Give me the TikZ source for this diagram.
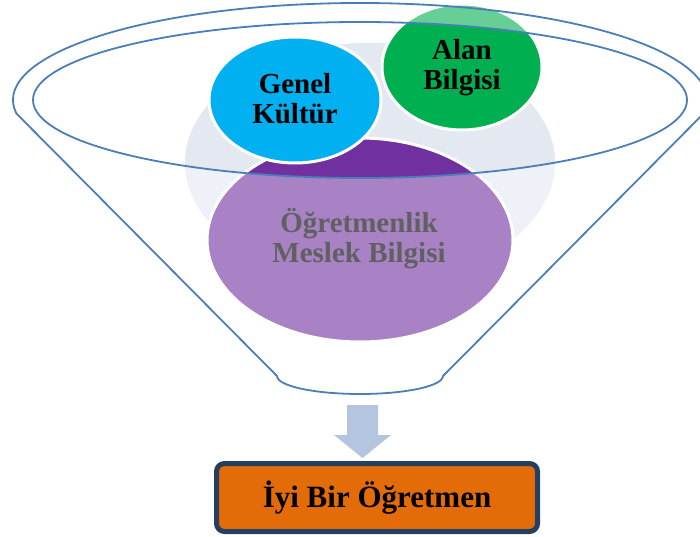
\documentclass[tikz,border=0pt]{standalone}
\usepackage{fontspec}
\setmainfont{Liberation Serif}
\usetikzlibrary{shapes.geometric}
\definecolor{greyD}{HTML}{E3E8F1}
\definecolor{greyL}{HTML}{EEF1F7}
\definecolor{purpD}{HTML}{7030A0}
\definecolor{purpL}{HTML}{A882C5}
\definecolor{cyanC}{HTML}{00B0F0}
\definecolor{greenD}{HTML}{00B050}
\definecolor{greenL}{HTML}{66CF95}
\definecolor{funnelC}{HTML}{4A7EBB}
\definecolor{arrowC}{HTML}{B4C5E0}
\definecolor{boxB}{HTML}{243F60}
\definecolor{boxF}{HTML}{E36C09}
\definecolor{txtG}{HTML}{606060}
\tikzset{
  blob/.style={draw=white, line width=3pt},
  funnel/.style={draw=funnelC, line width=1.8pt},
  lbl/.style={font=\bfseries\fontsize{29}{30}\selectfont, align=center, inner sep=0pt},
}
\begin{document}
\begin{tikzpicture}[x=1pt,y=-1pt]
\useasboundingbox (0,0) rectangle (700,537);
% washed (outside funnel mouth) layer
\fill[greyL] (370,163) ellipse[x radius=185, y radius=120];
\filldraw[fill=purpL, blob] (360,240) ellipse[x radius=153, y radius=102];
\filldraw[fill=greenL, blob] (462,67) ellipse[x radius=80, y radius=63];
\filldraw[fill=cyanC, blob] (295,100) ellipse[x radius=86, y radius=63];
% full colour layer inside the mouth
\begin{scope}
\clip (360,100) ellipse[x radius=327, y radius=78];
\fill[greyD] (370,163) ellipse[x radius=185, y radius=120];
\filldraw[fill=purpD, blob] (360,240) ellipse[x radius=153, y radius=102];
\filldraw[fill=greenD, blob] (462,67) ellipse[x radius=80, y radius=63];
\filldraw[fill=cyanC, blob] (295,100) ellipse[x radius=86, y radius=63];
\end{scope}
% labels
\node[lbl] (genel) at (295,99) {Genel\\Kültür};
\node[lbl] (alan) at (462,68) {Alan\\Bilgisi};
\node[lbl, text=txtG] (meslek) at (359,239) {Öğretmenlik\\Meslek Bilgisi};
% funnel
\draw[funnel] (360,100) ellipse[x radius=327, y radius=78];
\draw[funnel, line join=round] (360,100) ++(172:347 and 97)
  arc[start angle=172, end angle=368, x radius=347, y radius=97]
  -- (443,376) arc[start angle=0, end angle=180, x radius=83, y radius=18]
  -- cycle;
% result box
\node[draw=boxB, line width=5pt, fill=boxF, rounded corners=8pt,
      minimum width=321pt, minimum height=68pt,
      font=\bfseries\fontsize{31}{34}\selectfont] (iyi) at (377,497.5) {İyi Bir Öğretmen};
% block arrow
\coordinate (atop) at (362.5,405);
\coordinate (atip) at (362.5,458);
\fill[arrowC] (atop) ++(-15.5,0) -- ++(31,0) -- ++(0,30) -- ++(13,0)
  -- (atip) -- ++(-28.5,-23) -- ++(13,0) -- cycle;
\end{tikzpicture}
\end{document}
